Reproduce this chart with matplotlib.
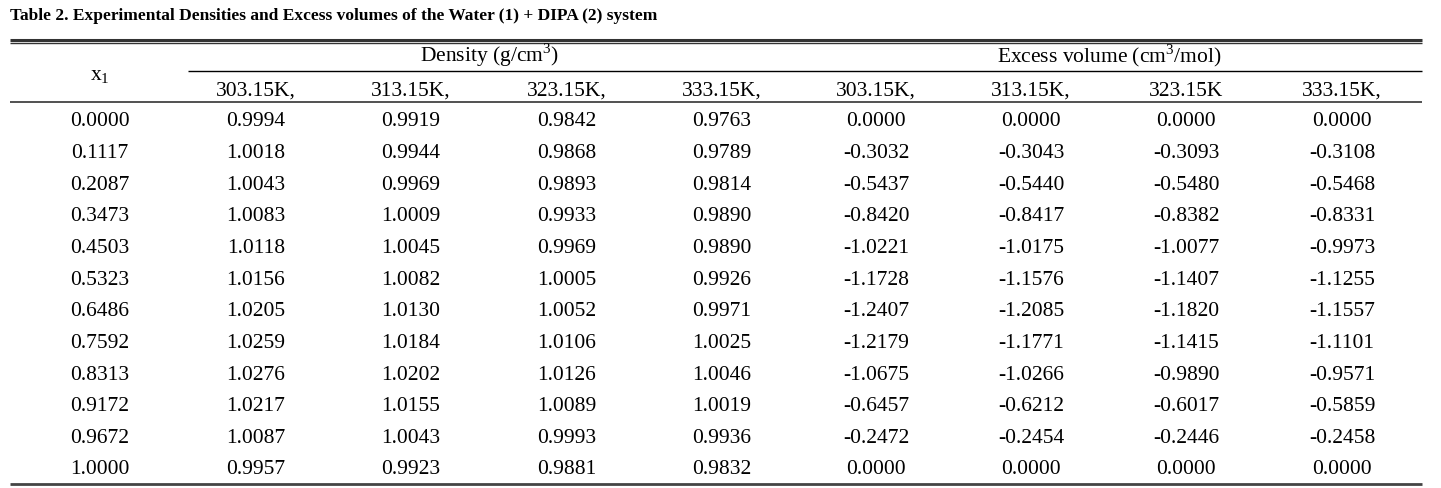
import numpy as np
import matplotlib.pyplot as plt

plt.rcParams['font.family'] = ['Liberation Serif', 'DejaVu Serif']
plt.rcParams['mathtext.fontset'] = 'custom'
plt.rcParams['mathtext.rm'] = 'Liberation Serif'

title = 'Table 2. Experimental Densities and Excess volumes of the Water (1) + DIPA (2) system'
group_labels = ['Density (g/cm$^{\\mathregular{3}}$)', 'Excess volume (cm$^{\\mathregular{3}}$/mol)']
temp_labels = ['303.15K,', '313.15K,', '323.15K,', '333.15K,',
               '303.15K,', '313.15K,', '323.15K', '333.15K,']

x1 = ['0.0000', '0.1117', '0.2087', '0.3473', '0.4503', '0.5323',
      '0.6486', '0.7592', '0.8313', '0.9172', '0.9672', '1.0000']
dens_303 = [0.9994, 1.0018, 1.0043, 1.0083, 1.0118, 1.0156, 1.0205, 1.0259, 1.0276, 1.0217, 1.0087, 0.9957]
dens_313 = [0.9919, 0.9944, 0.9969, 1.0009, 1.0045, 1.0082, 1.0130, 1.0184, 1.0202, 1.0155, 1.0043, 0.9923]
dens_323 = [0.9842, 0.9868, 0.9893, 0.9933, 0.9969, 1.0005, 1.0052, 1.0106, 1.0126, 1.0089, 0.9993, 0.9881]
dens_333 = [0.9763, 0.9789, 0.9814, 0.9890, 0.9890, 0.9926, 0.9971, 1.0025, 1.0046, 1.0019, 0.9936, 0.9832]
vex_303 = [0.0, -0.3032, -0.5437, -0.8420, -1.0221, -1.1728, -1.2407, -1.2179, -1.0675, -0.6457, -0.2472, 0.0]
vex_313 = [0.0, -0.3043, -0.5440, -0.8417, -1.0175, -1.1576, -1.2085, -1.1771, -1.0266, -0.6212, -0.2454, 0.0]
vex_323 = [0.0, -0.3093, -0.5480, -0.8382, -1.0077, -1.1407, -1.1820, -1.1415, -0.9890, -0.6017, -0.2446, 0.0]
vex_333 = [0.0, -0.3108, -0.5468, -0.8331, -0.9973, -1.1255, -1.1557, -1.1101, -0.9571, -0.5859, -0.2458, 0.0]

W, H = 1441, 489
fig = plt.figure(figsize=(W / 100, H / 100), dpi=100)
ax = fig.add_axes([0, 0, 1, 1])
ax.set_xlim(0, W)
ax.set_ylim(H, 0)
ax.axis('off')

fs = 15.5
col_x = [100, 256, 411, 567, 722, 876, 1031, 1186, 1342]
left, right = 10, 1422

# title and rules
ax.text(left, 20, title, fontsize=12.5, fontweight='bold', va='baseline', ha='left')
ax.hlines(40.5, left, right, color='#333333', lw=2.2)
ax.hlines(44, left, right, color='#333333', lw=1.0)
ax.hlines(72, 188, right, color='black', lw=1.0)
ax.hlines(103, left, right, color='#333333', lw=1.2)
ax.hlines(485, left, right, color='#444444', lw=2.0)

# header
ax.text(col_x[0], 80, 'x$_{\\mathregular{1}}$', fontsize=fs, ha='center', va='baseline')
ax.text((col_x[1] + col_x[4]) / 2, 62, group_labels[0], fontsize=fs, ha='center', va='baseline')
ax.text((col_x[5] + col_x[8]) / 2, 62, group_labels[1], fontsize=fs, ha='center', va='baseline')
for cx, lab in zip(col_x[1:], temp_labels):
    ax.text(cx, 95.5, lab, fontsize=fs, ha='center', va='baseline')

# body
columns = [dens_303, dens_313, dens_323, dens_333, vex_303, vex_313, vex_323, vex_333]
row_y = np.linspace(126.5, 474.5, len(x1))
for i, y in enumerate(row_y):
    ax.text(col_x[0], y, x1[i], fontsize=fs, ha='center', va='baseline')
    for cx, col in zip(col_x[1:], columns):
        ax.text(cx, y, '%.4f' % col[i], fontsize=fs, ha='center', va='baseline')

fig.savefig('out.png', dpi=100)
